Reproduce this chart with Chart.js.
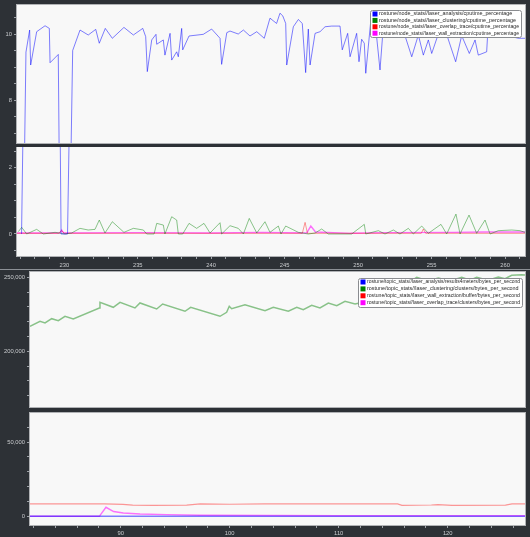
<!DOCTYPE html>
<html>
<head>
<meta charset="utf-8">
<script src="https://cdn.jsdelivr.net/npm/chart.js@4.4.1/dist/chart.umd.min.js"></script>
<style>
  html, body { margin: 0; padding: 0; background: #2d3136; }
  body { width: 530px; height: 537px; position: relative; overflow: hidden; }
  canvas { position: absolute; left: 0; }
  #split { position: absolute; left: 0; top: 269px; width: 530px; height: 1px; background: #8c9096; }
</style>
</head>
<body>
<div id="split"></div>
<canvas id="cpuHigh" width="530" height="144" style="top:0"></canvas>
<canvas id="cpuLow" width="530" height="123" style="top:147px"></canvas>
<canvas id="bytesHigh" width="530" height="141" style="top:268px"></canvas>
<canvas id="bytesLow" width="530" height="126" style="top:411px"></canvas>
<script>
const cpuLabels = [
  'rostune/node_stats//laser_analysis/cputime_percentage',
  'rostune/node_stats//laser_clustering/cputime_percentage',
  'rostune/node_stats//laser_overlap_trace/cputime_percentage',
  'rostune/node_stats//laser_wall_extraction/cputime_percentage'
];
const bytesLabels = [
  'rostune/topic_stats//laser_analysis/results4meters/bytes_per_second',
  'rostune/topic_stats//laser_clustering/clusters/bytes_per_second',
  'rostune/topic_stats//laser_wall_extraction/buffer/bytes_per_second',
  'rostune/topic_stats//laser_overlap_trace/clusters/bytes_per_second'
];
const markerColors = ['#0000ff', '#008000', '#ff0000', '#ff00ff'];
const lineColors = ['rgba(0,0,255,0.5)', 'rgba(0,128,0,0.45)', 'rgba(255,0,0,0.4)', 'rgba(255,0,255,0.55)'];

// [time (s), cputime %]
const cpuAnalysis = [
  [227.09,0],[227.39,9.45],[227.64,10.12],[227.71,9.06],[228.12,10.07],[228.69,10.25],[228.98,10.17],
  [229.03,9.13],[229.59,9.38],[229.78,0],[230.05,0],[230.22,0],[230.57,9.50],[231.07,10.12],
  [231.63,9.97],[232.14,10.14],[232.38,9.72],[232.79,10.17],[233.27,9.87],[234.06,10.20],[234.70,9.97],
  [235.34,10.17],[235.54,9.92],[235.65,8.86],[235.95,9.82],[236.24,9.99],[236.29,9.69],[236.74,9.82],
  [236.85,9.36],[237.20,10.02],[237.31,9.21],[237.65,9.46],[237.76,9.31],[237.99,10.17],[238.06,9.52],
  [238.49,9.94],[239.46,9.99],[240.03,10.15],[240.60,9.87],[240.71,9.08],[241.06,10.04],[241.28,10.09],
  [241.84,10.00],[242.19,10.12],[242.64,9.94],[243.10,10.07],[243.61,9.87],[244.00,10.48],[244.45,10.32],
  [244.68,10.63],[244.87,10.55],[245.07,10.32],[245.14,9.06],[245.59,10.22],[245.93,10.44],[246.20,10.32],
  [246.43,8.83],[246.61,10.15],[246.73,9.06],[247.07,10.02],[247.41,10.07],[247.75,10.22],[248.20,10.24],
  [248.77,10.24],[248.92,9.52],[249.29,10.02],[249.45,9.31],[249.90,10.02],[250.06,9.16],[250.24,9.84],
  [250.42,9.72],[250.52,8.81],[250.88,10.48],[251.15,10.40],[251.49,8.91],[251.71,10.20],[252.51,10.00],
  [253.19,9.95],[253.65,9.31],[254.10,9.97],[254.44,9.36],[254.78,9.82],[255.01,9.41],[255.46,10.00],
  [255.98,10.05],[256.64,9.16],[257.05,9.95],[257.57,9.41],[257.96,9.82],[258.18,9.36],[258.75,9.46],
  [258.82,10.00],[259.66,10.10],[260.46,9.92],[260.91,9.87],[261.43,9.87]
];
const cpuClustering = [
  [226.87,0.07],[227.10,0.2],[227.44,0],[228.12,0.14],[228.57,0],[229.37,0.05],[230.05,0],[230.50,0.03],
  [231.07,0.17],[231.63,0.12],[232.09,0.14],[232.38,0.42],[232.77,0.03],[233.27,0.37],[234.06,0.05],
  [234.70,0.17],[235.38,0.12],[235.61,0],[236.11,0],[236.29,0.32],[236.74,0.27],[236.85,0],[237.31,0.52],
  [237.65,0.42],[237.76,0],[238.06,0],[238.49,0.32],[239.01,0.17],[239.51,0.32],[239.92,0.03],[240.60,0.34],
  [240.71,0],[241.28,0.25],[241.84,0.17],[242.19,0],[242.59,0.47],[243.10,0.03],[243.66,0.37],[244.00,0.05],
  [244.57,0.24],[244.75,0],[245.07,0.24],[245.93,0.05],[246.61,0],[247.07,0.03],[247.52,0.15],[247.97,0],
  [249.11,0],[249.56,0],[250.42,0.29],[250.52,0],[251.38,0.1],[251.83,0],[252.40,0.12],[252.85,0],
  [253.42,0.17],[253.76,0],[254.33,0.24],[254.78,0.02],[255.64,0.29],[256.03,0],[256.66,0.6],[256.94,0],
  [257.55,0.57],[258.07,0.02],[258.64,0.42],[258.98,0],[259.54,0.1],[260.46,0.12],[261.02,0.1],[261.36,0.05]
];
const cpuOverlap = [
  [226.78,0.02],[229.6,0.02],[229.82,0.1],[230.0,0.02],[246.2,0.02],[246.39,0.35],[246.55,0.02],
  [254.3,0.02],[254.44,0.15],[254.6,0.02],[261.36,0.02]
];
const cpuWall = [
  [226.78,0.03],[229.7,0.03],[229.82,0.12],[229.95,0.03],[235.0,0.04],[240.0,0.03],[243.5,0.05],
  [246.5,0.03],[246.78,0.24],[247.1,0.06],[249.5,0.02],[252.0,0.04],[256.5,0.05],[258.5,0.06],[261.36,0.06]
];

// [time (s), bytes per second]
const bytesAnalysis = [[81.68,0],[95,0],[110,0],[127.09,0]];
const bytesClustering = [
  [81.68,216890],[82.60,220270],[83.06,219120],[83.67,222030],[84.28,220680],[84.89,223650],[85.65,221820],
  [88.04,229260],[88.10,233110],[89.32,229730],[89.94,233110],[91.31,229260],[91.77,232640],[93.30,228580],
  [93.85,231960],[95.90,227030],[96.42,229730],[99.11,223650],[99.72,226350],[99.96,230410],[100.18,228780],
  [101.40,231490],[103.24,227430],[104.00,229730],[105.38,227030],[106.15,229730],[106.75,228110],
  [107.52,231080],[108.28,229260],[109.05,232640],[109.82,230810],[110.58,233780],[111.50,231960],
  [112.41,233500],[113.33,236000],[114.25,235000],[115.17,238000],[116.09,237000],[116.55,247000],
  [117.16,250000],[118.19,247500],[119.14,249500],[120.21,247500],[121.28,250000],[122.05,248000],
  [122.66,250000],[123.70,248000],[124.64,250200],[125.26,249000],[125.87,251350],[126.79,251760],[127.09,251500]
];
const bytesWall = [
  [81.68,8300],[88.5,8300],[90.2,8000],[91.1,7500],[93.0,7400],[96.05,7500],[97.3,8300],[100.0,8100],
  [103.2,8300],[110.0,8300],[115.4,8300],[115.8,7400],[118.5,7600],[119.1,7800],[120.4,7400],[125.3,7500],
  [125.9,8300],[127.09,8300]
];
const bytesOverlap = [
  [81.68,0],[88.04,0],[88.65,6080],[89.35,3200],[90.24,2230],[91.77,1550],[94.22,1100],[97.28,670],
  [103.4,500],[110.0,400],[120.0,380],[127.09,380]
];

// axis ticks (all marks) and the ones that carry a label
const cpuTimeTicks = [227,228,229,230,231,232,233,234,235,236,237,238,239,240,241,242,243,244,245,246,247,248,249,250,251,252,253,254,255,256,257,258,259,260,261];
const cpuTimeLabels = [230,235,240,245,250,255,260];
const cpuHighTicks = [7,7.5,8,8.5,9,9.5,10,10.5];
const cpuLowTicks = [-0.5,0,0.5,1,1.5,2,2.5];
const cpuValueLabels = [0,2,8,10];
const bytesTimeTicks = [82,84,86,88,90,92,94,96,98,100,102,104,106,108,110,112,114,116,118,120,122,124,126];
const bytesTimeLabels = [90,100,110,120];
const bytesHighTicks = [170000,180000,190000,200000,210000,220000,230000,240000,250000];
const bytesLowTicks = [0,10000,20000,30000,40000,50000,60000];
const bytesValueLabels = [0,50000,200000,250000];

const tickFont = { family: 'Liberation Sans', size: 5.8 };
const tickColor = '#c9cbce';
const markColor = '#9ea2a8';

const frame = {
  id: 'frame',
  beforeDraw(chart) {
    const { ctx, chartArea: a } = chart;
    ctx.save();
    ctx.fillStyle = '#f8f8f8';
    ctx.fillRect(a.left, a.top, a.right - a.left, a.bottom - a.top);
    ctx.restore();
  },
  afterDatasetsDraw(chart) {
    const { ctx, chartArea: a } = chart;
    ctx.save();
    ctx.strokeStyle = '#b0b2b5';
    ctx.lineWidth = 1;
    ctx.strokeRect(a.left - 0.5, a.top - 0.5, a.right - a.left + 1, a.bottom - a.top + 1);
    ctx.restore();
  }
};

const boxLegend = {
  id: 'boxLegend',
  afterDraw(chart, args, o) {
    if (!o || !o.width) return;
    const ctx = chart.ctx;
    ctx.save();
    ctx.beginPath();
    ctx.roundRect(o.left + 0.5, o.top + 0.5, o.width, o.height, 2);
    ctx.fillStyle = '#ffffff';
    ctx.fill();
    ctx.strokeStyle = '#8a8c90';
    ctx.lineWidth = 1;
    ctx.stroke();
    ctx.font = '5.4px "Liberation Sans"';
    ctx.textBaseline = 'middle';
    chart.data.datasets.forEach((ds, i) => {
      const y = o.top + o.first + i * o.row;
      ctx.fillStyle = markerColors[i];
      ctx.fillRect(o.left + 2.5, y - 2.5, 5, 5);
      ctx.fillStyle = '#2a2a2a';
      ctx.fillText(ds.label, o.left + 9, y, o.width - 11);
    });
    ctx.restore();
  }
};

function series(labels, lists, widths) {
  return lists.map((pts, i) => ({
    label: labels[i],
    data: pts.map(([x, y]) => ({ x, y })),
    borderColor: lineColors[i],
    borderWidth: widths[i],
    pointRadius: 0,
    tension: 0,
    clip: 0
  }));
}

function panel(id, cfg) {
  return new Chart(document.getElementById(id), {
    type: 'line',
    data: { datasets: cfg.datasets },
    options: {
      responsive: false,
      animation: false,
      devicePixelRatio: 1,
      layout: { padding: cfg.padding, autoPadding: false },
      plugins: {
        legend: { display: false },
        tooltip: { enabled: false },
        boxLegend: cfg.legend || {}
      },
      scales: {
        x: {
          type: 'linear',
          min: cfg.xMin, max: cfg.xMax,
          display: cfg.showX,
          afterBuildTicks: s => { s.ticks = cfg.xTicks.map(value => ({ value })); },
          afterFit: s => { s.height = cfg.xHeight || 0; s.paddingLeft = 0; s.paddingRight = 0; },
          ticks: {
            autoSkip: false, maxRotation: 0, padding: cfg.xPad || 2,
            color: tickColor, font: tickFont,
            callback: v => cfg.xLabels.includes(v) ? String(v) : ''
          },
          grid: { drawOnChartArea: false, drawTicks: true, tickLength: 3, color: markColor },
          border: { display: false }
        },
        y: {
          type: 'linear',
          min: cfg.yMin, max: cfg.yMax,
          afterBuildTicks: s => { s.ticks = cfg.yTicks.map(value => ({ value })); },
          afterFit: s => { s.width = cfg.yWidth; s.paddingTop = 0; s.paddingBottom = 0; },
          ticks: {
            autoSkip: false, padding: 2,
            color: tickColor, font: tickFont,
            callback: v => cfg.yLabels.includes(v) ? v.toLocaleString('en-US') : ''
          },
          grid: { drawOnChartArea: false, drawTicks: true, tickLength: 3, color: markColor },
          border: { display: false }
        }
      }
    },
    plugins: [frame, boxLegend]
  });
}

const cpuWidths = [1, 1, 1, 1.4];
const bytesWidths = [1.4, 1.5, 1.2, 1.4];

panel('cpuHigh', {
  datasets: series(cpuLabels, [cpuAnalysis, cpuClustering, cpuOverlap, cpuWall], cpuWidths),
  padding: { top: 5, right: 5, bottom: 1, left: 0 },
  xMin: 226.78, xMax: 261.36, showX: false, xTicks: cpuTimeTicks, xLabels: cpuTimeLabels,
  yMin: 6.697, yMax: 10.879, yTicks: cpuHighTicks, yLabels: cpuValueLabels, yWidth: 17,
  legend: { left: 370, top: 10, width: 151, height: 27, first: 4, row: 6.4 }
});
panel('cpuLow', {
  datasets: series(cpuLabels, [cpuAnalysis, cpuClustering, cpuOverlap, cpuWall], cpuWidths),
  padding: { top: 0, right: 5, bottom: 0, left: 0 },
  xMin: 226.78, xMax: 261.36, showX: true, xHeight: 14, xPad: 3, xTicks: cpuTimeTicks, xLabels: cpuTimeLabels,
  yMin: -0.664, yMax: 2.624, yTicks: cpuLowTicks, yLabels: cpuValueLabels, yWidth: 17
});
panel('bytesHigh', {
  datasets: series(bytesLabels, [bytesAnalysis, bytesClustering, bytesWall, bytesOverlap], bytesWidths),
  padding: { top: 4, right: 5, bottom: 2, left: 0 },
  xMin: 81.68, xMax: 127.09, showX: false, xTicks: bytesTimeTicks, xLabels: bytesTimeLabels,
  yMin: 162360, yMax: 253580, yTicks: bytesHighTicks, yLabels: bytesValueLabels, yWidth: 30,
  legend: { left: 358, top: 10, width: 164, height: 29, first: 4, row: 6.9 }
});
panel('bytesLow', {
  datasets: series(bytesLabels, [bytesAnalysis, bytesClustering, bytesWall, bytesOverlap], bytesWidths),
  padding: { top: 2, right: 5, bottom: 0, left: 0 },
  xMin: 81.68, xMax: 127.09, showX: true, xHeight: 12, xPad: 2, xTicks: bytesTimeTicks, xLabels: bytesTimeLabels,
  yMin: -5850, yMax: 69520, yTicks: bytesLowTicks, yLabels: bytesValueLabels, yWidth: 30
});
</script>
</body>
</html>
